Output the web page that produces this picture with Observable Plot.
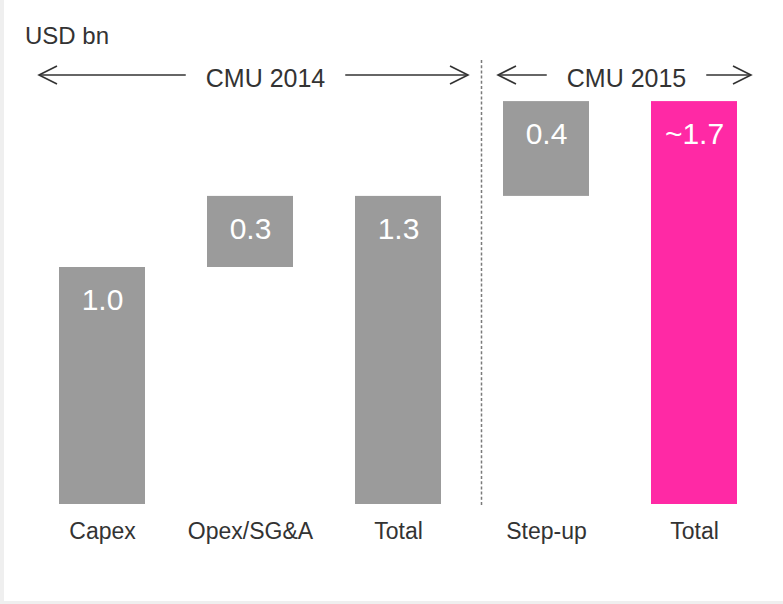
<!DOCTYPE html>
<html><head><meta charset="utf-8">
<script src="https://cdn.jsdelivr.net/npm/d3@7"></script>
<script src="https://cdn.jsdelivr.net/npm/@observablehq/plot@0.6"></script>
<style>
body{margin:0;background:#efefef;width:783px;height:604px;overflow:hidden;position:relative}
#chart{position:absolute;left:4px;top:0;width:779px;height:601px;background:#fff}
#chart svg{display:block}
</style></head><body><div id="chart"></div>
<script>
// ---- data ----
const categories = ["Capex", "Opex/SG&A", "Total 2014", "Step-up", "Total 2015"];
const tickLabels = ["Capex", "Opex/SG&A", "Total", "Step-up", "Total"];
const barStarts = [0, 1.0, 0, 1.3, 0];
const barEnds = [1.0, 1.3, 1.3, 1.7, 1.7];
const valueLabels = ["1.0", "0.3", "1.3", "0.4", "~1.7"];
const highlighted = ["Total 2015"];
const groupLabels = ["CMU 2014", "CMU 2015"];
const groupFrom = ["Capex", "Step-up"];
const groupTo = ["Total 2014", "Total 2015"];
const unitLabel = "USD bn";
const dividerAfter = "Total 2014";

const GRAY = "#9b9b9b", PINK = "#ff29a5", INK = "#333333";
const FONT = "'Liberation Sans', Arial, Helvetica, sans-serif";

const data = categories.map((c, i) => ({cat: c, y1: barStarts[i], y2: barEnds[i], label: valueLabels[i]}));

const plot = Plot.plot({
  width: 779, height: 601,
  marginLeft: 53, marginRight: 45, marginTop: 30, marginBottom: 97,
  style: {fontFamily: FONT, background: "transparent", color: INK, overflow: "visible"},
  x: {domain: categories, paddingInner: 0.42, paddingOuter: 0},
  y: {domain: [0, 2], axis: null},
  marks: [
    Plot.barY(data.filter(d => !highlighted.includes(d.cat)), {x: "cat", y1: "y1", y2: "y2", fill: GRAY}),
    Plot.barY(data.filter(d => highlighted.includes(d.cat)), {x: "cat", y1: "y1", y2: "y2", fill: PINK}),
    Plot.text(data, {x: "cat", y: "y2", text: "label", dy: 33, fill: "white", fontSize: 30, lineAnchor: "middle"}),
    Plot.axisX({tickSize: 0, tickPadding: 18, fontSize: 23, fill: INK, label: null,
      tickFormat: d => tickLabels[categories.indexOf(d)]})
  ]
});
document.getElementById("chart").appendChild(plot);

// ---- annotations positioned from the x scale ----
const sx = plot.scale("x");
const bw = sx.bandwidth;
const bStart = c => sx.apply(c);
const bEnd = c => sx.apply(c) + bw;
const svg = d3.select(plot);
const g = svg.append("g").attr("font-family", FONT).attr("text-anchor", "start");

// unit label
g.append("text").attr("x", 21).attr("y", 43.5).attr("text-anchor", "start")
  .attr("font-size", 24).attr("fill", INK).text(unitLabel);

// divider
const nextCat = categories[categories.indexOf(dividerAfter) + 1];
const divX = (bEnd(dividerAfter) + bStart(nextCat)) / 2 + 9.5;
g.append("line").attr("x1", divX).attr("x2", divX).attr("y1", 60).attr("y2", 505)
  .attr("stroke", "#7a7a7a").attr("stroke-width", 1.5).attr("stroke-dasharray", "3,2.2");

// group arrows
const overhang = [[20, 27], [5, 14]];
const arrowY = 75, head = 18, spread = 9, gap = 20;
groupLabels.forEach((lab, i) => {
  const left = bStart(groupFrom[i]) - overhang[i][0];
  const right = bEnd(groupTo[i]) + overhang[i][1];
  const cx = (left + right) / 2 + (i === 0 ? 12 : 2);
  const t = g.append("text").attr("x", cx).attr("y", arrowY + 11.5).attr("text-anchor", "middle")
    .attr("font-size", 25).attr("fill", INK).text(lab);
  const w = t.node().getComputedTextLength();
  const l2 = cx - w / 2 - gap, r1 = cx + w / 2 + gap;
  const st = sel => sel.attr("stroke", INK).attr("stroke-width", 1.6).attr("fill", "none");
  st(g.append("line").attr("x1", left).attr("x2", l2).attr("y1", arrowY).attr("y2", arrowY));
  st(g.append("line").attr("x1", r1).attr("x2", right).attr("y1", arrowY).attr("y2", arrowY));
  st(g.append("path").attr("d", `M${left + head},${arrowY - spread}L${left},${arrowY}L${left + head},${arrowY + spread}`));
  st(g.append("path").attr("d", `M${right - head},${arrowY - spread}L${right},${arrowY}L${right - head},${arrowY + spread}`));
});
</script></body></html>
